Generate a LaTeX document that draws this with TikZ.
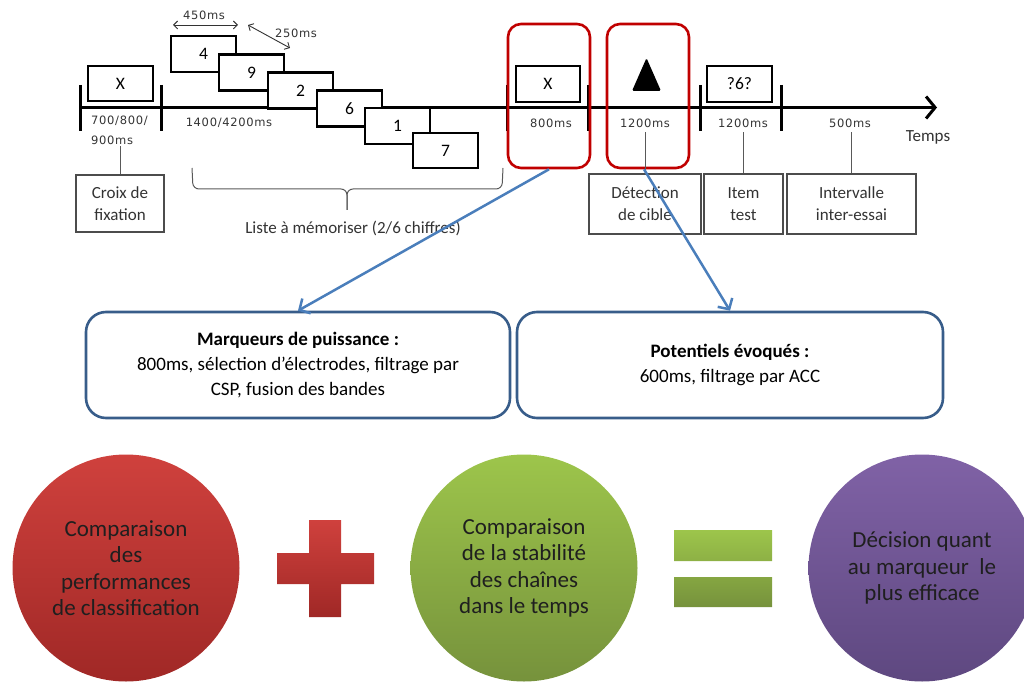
\documentclass[tikz,border=0pt]{standalone}
\usepackage{fontspec}
\setmainfont{Carlito}
\newfontfamily\smallf[LetterSpace=6]{DejaVu Sans}
\usetikzlibrary{arrows.meta,calc}
\definecolor{redc}{HTML}{C00000}
\definecolor{bluebd}{HTML}{385D8A}
\definecolor{bluel}{HTML}{4A7EBB}
\definecolor{rtop}{HTML}{CF413D}
\definecolor{rbot}{HTML}{A02826}
\definecolor{gtop}{HTML}{9DC54B}
\definecolor{gbot}{HTML}{76923C}
\definecolor{ptop}{HTML}{8062A6}
\definecolor{pbot}{HTML}{5E4880}
\begin{document}
\begin{tikzpicture}[x=1pt,y=-1pt,
  thickbox/.style={draw=black, line width=2.6pt, fill=white, inner sep=0pt, font=\fontsize{17.5}{17.5}\selectfont},
  graybox/.style={draw=black!70, line width=1.1pt, inner sep=0pt, align=center, font=\fontsize{17}{22}\selectfont, text=black!80},
  lbl/.style={font=\smallf\fontsize{11.5}{20}\selectfont, text=black!80, inner sep=0pt},
  tickln/.style={line width=3pt},
  redbox/.style={draw=redc, line width=2.6pt, rounded corners=13pt, inner sep=0pt},
  bluebox/.style={draw=bluebd, line width=2.6pt, rounded corners=20pt, fill=white, align=center, inner sep=0pt, font=\fontsize{19}{25}\selectfont},
  bluearrow/.style={draw=bluel, line width=2.5pt, -{Straight Barb[length=8pt,width=17pt]}},
  circtext/.style={inner sep=0pt, align=center, font=\fontsize{23}{26.5}\selectfont, text=black!88},
  guide/.style={draw=black!65, line width=1pt},
  dimarrow/.style={draw=black!80, line width=0.9pt, {Straight Barb[length=4pt,width=8pt]}-{Straight Barb[length=4pt,width=8pt]}},
]
\useasboundingbox (0,0) rectangle (1024,684);

% time axis
\coordinate (axL) at (80,107.5);
\coordinate (axR) at (937,107.5);
\draw[line width=3pt, -{Straight Barb[length=9pt,width=22pt]}] (axL) -- (axR);
\foreach \x in {80,161,507,588,700,781} \draw[tickln] (\x,85) -- (\x,131);

% fixation cross
\node[thickbox, minimum width=65pt, minimum height=35pt] (fixX) at (120.5,83.5) {X};

% digit list
\node[thickbox, minimum width=65pt, minimum height=36pt] (d4) at (203.5,54) {4};
\node[thickbox, minimum width=65pt, minimum height=36pt] (d9) at (251.5,72.5) {9};
\node[thickbox, minimum width=65pt, minimum height=36pt] (d2) at (300.5,90.5) {2};
\node[thickbox, minimum width=65pt, minimum height=36pt] (d6) at (349.5,108.5) {6};
\node[thickbox, minimum width=65pt, minimum height=36pt] (d1) at (397.5,126) {1};
\node[thickbox, minimum width=65pt, minimum height=35pt] (d7) at (445.5,150.5) {7};

% duration arrows
\coordinate (a450L) at (173,25);
\coordinate (a450R) at (238,25);
\draw[dimarrow] (a450L) -- (a450R);
\node[lbl] (l450) at (204,15) {450ms};
\coordinate (a250A) at (248,25);
\coordinate (a250B) at (290,48);
\draw[dimarrow] (a250A) -- (a250B);
\node[lbl] (l250) at (296,33) {250ms};

% red boxes and their content
\node[redbox, minimum width=82pt, minimum height=144pt] (red1) at (549,96) {};
\node[redbox, minimum width=82pt, minimum height=144pt] (red2) at (648,96) {};
\node[thickbox, minimum width=64pt, minimum height=36pt] (memX) at (548,84) {X};
\fill[rounded corners=1.5pt] (646.5,58) -- (661,91) -- (632,91) -- cycle;
\node[thickbox, minimum width=65pt, minimum height=36pt] (item) at (739.5,84) {?6?};

% duration labels
\node[lbl, anchor=north west, align=left] (l700) at (91,116) {700/800/\\900ms};
\node[lbl] (l1400) at (229,123) {1400/4200ms};
\node[lbl] (l800) at (551,123) {800ms};
\node[lbl] (l1200a) at (645,123) {1200ms};
\node[lbl] (l1200b) at (743,123) {1200ms};
\node[lbl] (l500) at (850,123) {500ms};
\node[font=\fontsize{17}{17}\selectfont, text=black!80, inner sep=0pt] (temps) at (928,137) {Temps};

% description boxes
\node[graybox, minimum width=88pt, minimum height=57pt] (croix) at (120,203.5) {Croix de\\fixation};
\node[graybox, minimum width=112pt, minimum height=60pt] (det) at (645,204) {Détection\\de cible};
\node[graybox, minimum width=79pt, minimum height=60pt] (itest) at (743.5,204) {Item\\test};
\node[graybox, minimum width=129pt, minimum height=60pt] (inter) at (851.5,204) {Intervalle\\inter-essai};

\draw[guide] (croix.north) -- ([yshift=-1pt]croix.north |- l700.south);
\draw[guide] (det.north) -- ([yshift=-4.5pt]det.north |- l1200a.south);
\draw[guide] (itest.north) -- ([yshift=-4.5pt]itest.north |- l1200b.south);
\draw[guide] (inter.north) -- ([yshift=-4.5pt]inter.north |- l500.south);

% brace
\draw[guide, rounded corners=6pt] (192,168) -- (193,189) -- (347,189) -- (347,210);
\draw[guide, rounded corners=6pt] (503,168) -- (502,189) -- (347,189) -- (347,210);
\node[font=\fontsize{17}{17}\selectfont, text=black!80, inner sep=0pt] (liste) at (353,228) {Liste à mémoriser (2/6 chiffres)};

% analysis boxes
\node[bluebox, minimum width=424pt, minimum height=106pt] (bb1) at (298,365)
  {\textbf{Marqueurs de puissance :}\\800ms, sélection d’électrodes, filtrage par\\CSP, fusion des bandes};
\node[bluebox, minimum width=426pt, minimum height=106pt] (bb2) at (730,365)
  {\textbf{Potentiels évoqués :}\\600ms, filtrage par ACC};
\draw[bluearrow] (red1.south) -- (bb1.north);
\draw[bluearrow] ([xshift=-4pt]red2.south) -- (bb2.north);

% bottom row
\shade[top color=rtop, bottom color=rbot] (126,568) circle[radius=113.5];
\node[circtext] (cperf) at (126,568) {Comparaison\\des\\performances\\de classification};
\shade[top color=rtop, bottom color=rbot] (277,553) rectangle (374,584) (309,520) rectangle (341,617);
\shade[top color=gtop, bottom color=gbot] (524,568) circle[radius=113.5];
\node[circtext] (cstab) at (524,568) {Comparaison\\de la stabilité\\des chaînes\\dans le temps};
\shade[top color=gtop, bottom color=gbot] (674,530) rectangle (772,561) (674,577) rectangle (772,607);
\shade[top color=ptop, bottom color=pbot] (922,568) circle[radius=113.5];
\node[circtext] (cdec) at (922,568) {Décision quant\\au marqueur~ le\\plus efficace};
\end{tikzpicture}
\end{document}
